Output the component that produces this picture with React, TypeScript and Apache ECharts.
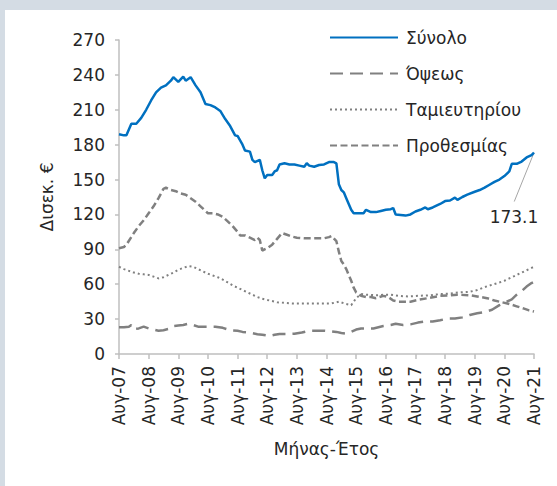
import React, { useEffect, useRef } from "react";
import * as echarts from "echarts";

const xTickLabels = ["Αυγ-07","Αυγ-08","Αυγ-09","Αυγ-10","Αυγ-11","Αυγ-12","Αυγ-13","Αυγ-14","Αυγ-15","Αυγ-16","Αυγ-17","Αυγ-18","Αυγ-19","Αυγ-20","Αυγ-21"];
const seriesNames = ["Σύνολο", "Όψεως", "Ταμιευτηρίου", "Προθεσμίας"];

// [months since Aug-07, billion €]
const totalPts: [number, number][] = [[0,189],[2,188],[3,188],[5,198],[7,198],[9,203],[11,210],[13,218],[15,225],[17,229],[19,231],[21,235],[22,238],[24,234],[26,238.5],[27,235],[29,238],[31,231],[33,225],[35,215],[37,214],[39,212],[41,209],[43,202],[45,196],[47,188],[48,187.5],[50,180],[51,175],[53,174],[54,167],[55,165],[57,167],[58,158],[59,151],[60,154],[62,154],[63,157],[64,158],[65,163],[67,164],[69,163],[71,163],[73,162],[75,161],[76,164],[77,162],[79,161],[81,162.5],[83,163],[85,165],[87,165],[88,164],[89,146],[90,141],[91,139],[92,134],[93,129],[94,124],[95,121],[97,121],[99,121],[100,124],[102,122],[104,122],[106,123],[108,124],[110,124.5],[111,125.5],[112,120],[114,119.5],[116,119],[118,120],[120,122.5],[122,124],[124,126],[125,124.5],[127,126],[130,129],[132,131.5],[134,132],[136,134.5],[137,132.5],[139,135],[141,137],[144,139.5],[146,141],[148,143],[150,145.5],[152,148],[154,150],[156,153],[158,157],[159,163.5],[161,163.5],[163,165.5],[165,169],[167,171],[168,173.1]];
const sightPts: [number, number][] = [[0,23],[2,23],[4,23.5],[5,25],[6,21.5],[8,22],[10,23.5],[12,22],[14,21],[16,20],[18,20.5],[20,21.5],[22,24],[24,24.5],[26,25],[28,26],[30,25],[32,23.5],[35,23.5],[39,23.5],[42,22.5],[45,20.5],[48,20],[50,19],[53,18.5],[56,17],[58,16.5],[61,15.5],[63,16.5],[65,17.2],[68,17.2],[71,17.5],[74,18.5],[77,20],[80,20],[83,20],[86,19.5],[88,19],[90,18],[92,17.5],[94,19],[96,21],[98,22],[100,22],[103,22],[105,23],[107,24],[110,25],[112,26],[115,25],[118,25.5],[121,27],[124,28],[127,28],[130,29],[133,30.5],[136,30.5],[139,31.5],[142,33.5],[145,35],[148,36],[151,38],[154,42],[157,45],[159,47],[161,51],[163,54],[165,58],[167,61],[168,62]];
const savingsPts: [number, number][] = [[0,75],[2,73],[4,71.5],[6,70],[8,69],[10,68.5],[12,68],[14,66.5],[16,65],[18,66],[20,68],[22,70],[24,72.5],[26,74],[28,75.5],[30,75],[32,73],[34,71],[36,69],[38,67.5],[40,66],[42,64],[44,61.5],[46,59],[48,57],[50,55],[52,53],[54,51],[56,49],[58,47.5],[60,46.5],[62,45.5],[64,44.5],[67,44],[70,43.5],[74,43.5],[78,43.5],[82,43.5],[86,43.5],[89,45],[92,43],[94,42],[95,45],[96,48],[98,51.5],[100,51],[104,50.5],[108,51],[110,51],[113,50],[117,49.5],[121,50],[126,50.5],[130,51.5],[134,52],[138,53],[142,53.5],[145,55],[148,57.5],[151,59.5],[154,61.5],[156,63],[158,65],[161,68],[163,70],[165,72],[167,74],[168,75]];
const timePts: [number, number][] = [[0,91],[2,92],[3,94],[6,104],[8,110],[10,115],[12,121],[14,127],[16,134],[18,142],[19,143],[21,141],[23,140],[25,138],[27,137],[29,134],[31,131],[33,127],[35,123],[36,121],[38,121],[40,120],[42,118],[44,114],[46,110],[48,105],[49,102],[51,102],[53,100],[55,98],[56,100],[57,98],[58,89],[60,91],[62,94],[64,99],[66,104],[68,102.5],[70,101],[72,100],[75,99.5],[79,99.5],[83,99.5],[85,100.5],[86,101.5],[88,97],[89,88],[90,80],[91,77],[92,73],[93,68],[94,63],[95,57],[96,53],[98,50],[100,49],[102,49],[104,48],[107,50],[109,49],[111,46],[113,45],[116,45],[118,45],[121,46.5],[125,48],[130,50],[134,50.5],[137,51],[142,50.5],[145,49.5],[149,48],[152,46],[155,44.5],[158,43],[161,41],[164,39],[166,37.5],[168,36.5]];

const FONT = "DejaVu Sans";
const FS = 17;
const TXT = "#262626";
const GRAY = "#808080";
const BLUE = "#0070c0";

export default function App() {
  const ref = useRef<HTMLDivElement>(null);
  useEffect(() => {
    if (!ref.current) return;
    const chart = echarts.init(ref.current, undefined, { renderer: "svg" });
    const lastIdx = totalPts.length - 1;
    const last = totalPts[lastIdx];
    const totalData = totalPts.map((p, i) =>
      i === lastIdx ? { value: p, label: { show: true } } : { value: p }
    );
    const baseLine = {
      type: "line",
      symbol: "circle",
      symbolSize: 0,
      showSymbol: true,
      showAllSymbol: true,
    };
    chart.setOption({
      animation: false,
      backgroundColor: "#ffffff",
      textStyle: { fontFamily: FONT },
      grid: { left: 114, right: 23, top: 30, bottom: 132 },
      legend: {
        orient: "vertical",
        left: 324,
        top: 19,
        padding: 0,
        itemWidth: 68,
        itemHeight: 14,
        itemGap: 19,
        itemStyle: { opacity: 0 },
        textStyle: { fontFamily: FONT, fontSize: FS, color: TXT, padding: [0, 0, 0, 3] },
        data: seriesNames,
      },
      xAxis: {
        type: "value",
        min: 0,
        max: 168,
        interval: 12,
        name: "Μήνας-Έτος",
        nameLocation: "middle",
        nameGap: 86,
        nameTextStyle: { fontFamily: FONT, fontSize: FS, color: TXT },
        axisLine: { lineStyle: { color: "#bfbfbf", width: 1.5 } },
        axisTick: { show: true, length: 5, lineStyle: { color: "#bfbfbf", width: 1.5 } },
        splitLine: { show: false },
        axisLabel: {
          rotate: 90,
          margin: 12,
          fontFamily: FONT,
          fontSize: FS,
          color: TXT,
          formatter: (v: number) => xTickLabels[Math.round(v / 12)] ?? "",
        },
      },
      yAxis: {
        type: "value",
        min: 0,
        max: 270,
        interval: 30,
        name: "Δισεκ. €",
        nameLocation: "middle",
        nameGap: 64,
        nameTextStyle: { fontFamily: FONT, fontSize: FS, color: TXT },
        axisLine: { show: true, lineStyle: { color: "#bfbfbf", width: 1.5 } },
        axisTick: { show: true, length: 4, lineStyle: { color: "#bfbfbf", width: 1.5 } },
        splitLine: { show: false },
        axisLabel: { margin: 14, fontFamily: FONT, fontSize: FS, color: TXT },
      },
      series: [
        {
          ...baseLine,
          name: seriesNames[0],
          data: totalData,
          z: 5,
          lineStyle: { color: BLUE, width: 2.5 },
          itemStyle: { color: BLUE },
          label: {
            show: false,
            position: "inside",
            fontFamily: FONT,
            fontSize: FS,
            color: TXT,
            formatter: (p: any) => (p.value[1] as number).toFixed(1),
          },
          labelLayout: { dx: -20, dy: 64 },
          markLine: {
            silent: true,
            symbol: "none",
            label: { show: false },
            lineStyle: { color: "#a6a6a6", width: 1, type: "solid" },
            data: [[{ coord: last }, { coord: [last[0] - 8, last[1] - 42] }]],
          },
        },
        {
          ...baseLine,
          name: seriesNames[1],
          data: sightPts,
          lineStyle: { color: GRAY, width: 2.5, type: [13, 7] },
          itemStyle: { color: GRAY },
        },
        {
          ...baseLine,
          name: seriesNames[2],
          data: savingsPts,
          lineStyle: { color: GRAY, width: 2, type: [2, 3] },
          itemStyle: { color: GRAY },
        },
        {
          ...baseLine,
          name: seriesNames[3],
          data: timePts,
          lineStyle: { color: GRAY, width: 2.5, type: [7, 3.5] },
          itemStyle: { color: GRAY },
        },
      ],
    });
    return () => chart.dispose();
  }, []);
  return (
    <div style={{ position: "fixed", left: 0, top: 0, width: 557, height: 486, background: "#d4dce4" }}>
      <div ref={ref} style={{ position: "absolute", left: 5, top: 10, width: 552, height: 476 }} />
    </div>
  );
}
